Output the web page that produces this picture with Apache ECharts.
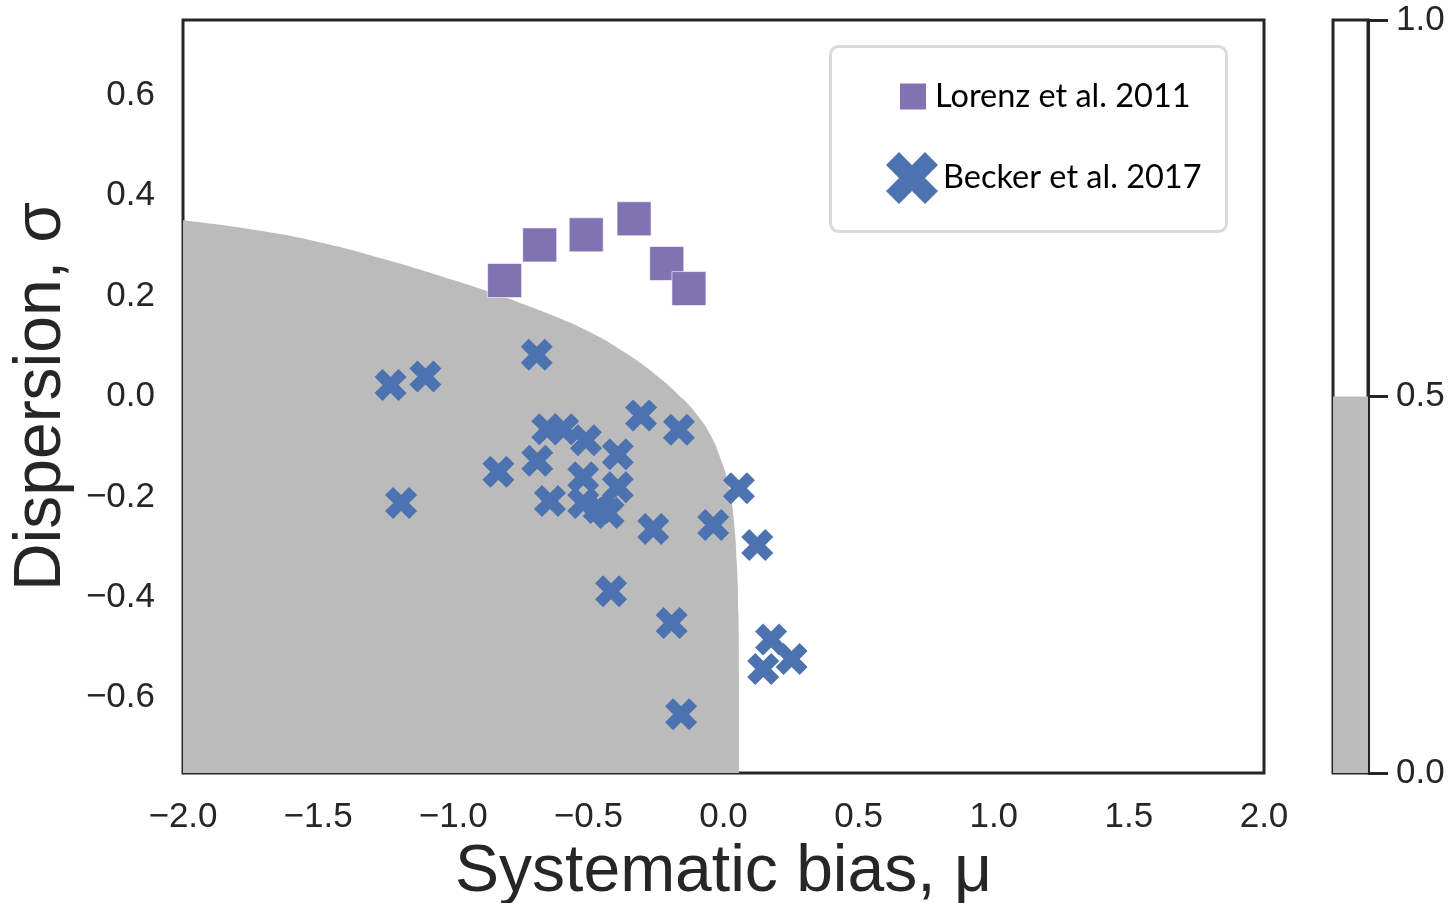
<!DOCTYPE html>
<html>
<head>
<meta charset="utf-8">
<script src="https://cdn.jsdelivr.net/npm/echarts@6/dist/echarts.min.js"></script>
<style>
  html, body { margin: 0; padding: 0; background: #ffffff; }
  #chart { width: 1452px; height: 903px; }
</style>
</head>
<body>
<div id="chart"></div>
<script>
// Lorenz et al. 2011: [systematic bias mu, dispersion sigma]
const lorenz = [
  [-0.810, 0.231], [-0.680, 0.302], [-0.508, 0.322],
  [-0.331, 0.354], [-0.210, 0.265], [-0.128, 0.215]
];

// Becker et al. 2017: [systematic bias mu, dispersion sigma]
const becker = [
  [-1.232, 0.023], [-1.103, 0.040], [-0.691, 0.083], [-1.193, -0.212],
  [-0.833, -0.150], [-0.689, -0.128], [-0.642, -0.208], [-0.652, -0.065],
  [-0.593, -0.065], [-0.509, -0.087], [-0.305, -0.038], [-0.165, -0.066],
  [-0.391, -0.115], [-0.391, -0.181], [-0.519, -0.161], [-0.519, -0.212],
  [-0.462, -0.222], [-0.425, -0.232], [-0.260, -0.264], [-0.038, -0.256],
  [0.057, -0.183], [0.125, -0.296], [-0.416, -0.388], [-0.192, -0.451],
  [-0.157, -0.633], [0.176, -0.484], [0.252, -0.523], [0.147, -0.543]
];

// Edge of the shaded (value < 0.5) region; filled down to the bottom of the axis
const grayBoundary = [
  [-2.000, 0.351], [-1.750, 0.333], [-1.500, 0.308], [-1.250, 0.273],
  [-1.000, 0.232], [-0.875, 0.210], [-0.750, 0.186], [-0.625, 0.160],
  [-0.500, 0.130], [-0.375, 0.091], [-0.250, 0.043], [-0.150, -0.005],
  [-0.100, -0.035], [-0.050, -0.075], [-0.010, -0.125], [0.020, -0.180],
  [0.038, -0.245], [0.049, -0.330], [0.055, -0.430], [0.057, -0.550],
  [0.057, -0.750]
];

// Tick positions
const yTickValues = [-0.6, -0.4, -0.2, 0.0, 0.2, 0.4, 0.6];
const colorbarTicks = [0.0, 0.5, 1.0];
const colorbarFill = [0.5];

const seriesNames = ['Lorenz et al. 2011', 'Becker et al. 2017'];

const BLUE = '#4C72B0';
const PURPLE = '#8172B2';
const GRAY = '#bbbbbb';
const INK = '#262626';
const SPINE = '#262626';

// Thick "X" marker (a plus sign turned by 45 degrees)
const XMARK = 'path://M50,73.57L73.57,97.14L97.14,73.57L73.57,50L97.14,26.43L73.57,2.86L50,26.43L26.43,2.86L2.86,26.43L26.43,50L2.86,73.57L26.43,97.14Z';

const fmt = v => (v < 0 ? '\u2212' : '') + Math.abs(v).toFixed(1);

const SANS = '"Liberation Sans", Arial, sans-serif';
const tickFont = { fontFamily: SANS, fontSize: 35, color: INK };
const titleFont = { fontFamily: SANS, fontSize: 66, color: INK };
const legendFont = { fontFamily: 'Lato, "Open Sans", sans-serif', fontSize: 32.5, color: '#000000' };

const chart = echarts.init(document.getElementById('chart'), null, { renderer: 'canvas' });

chart.setOption({
  animation: false,
  backgroundColor: '#ffffff',
  grid: [
    { left: 183, top: 20, width: 1081, height: 753, show: true, outerBoundsMode: 'none',
      borderColor: SPINE, borderWidth: 3, backgroundColor: '#ffffff', containLabel: false },
    { left: 1333, top: 20, width: 35, height: 753, show: true, outerBoundsMode: 'none',
      borderColor: SPINE, borderWidth: 3, backgroundColor: '#ffffff', containLabel: false }
  ],
  xAxis: [
    { type: 'value', gridIndex: 0, min: -2, max: 2, interval: 0.5,
      axisLine: { show: false }, axisTick: { show: false }, splitLine: { show: false },
      axisLabel: { ...tickFont, margin: 27, formatter: fmt },
      name: 'Systematic bias, \u03bc', nameLocation: 'middle', nameGap: 62,
      nameTextStyle: titleFont },
    { type: 'category', gridIndex: 1, data: ['c'], show: false }
  ],
  yAxis: [
    { type: 'value', gridIndex: 0, min: -0.75, max: 0.75,
      axisLine: { show: false }, axisTick: { show: false }, splitLine: { show: false },
      axisLabel: { ...tickFont, margin: 28, padding: [8, 0, 0, 0], formatter: fmt, customValues: yTickValues },
      name: 'Dispersion, \u03c3', nameLocation: 'middle', nameGap: 103, nameRotate: 90,
      nameTextStyle: titleFont },
    { type: 'value', gridIndex: 1, min: 0, max: 1, position: 'right',
      axisLine: { show: true, lineStyle: { color: SPINE, width: 3 } },
      axisTick: { show: true, length: 20, lineStyle: { color: SPINE, width: 3 }, customValues: colorbarTicks },
      splitLine: { show: false },
      axisLabel: { ...tickFont, margin: 28, padding: [6, 0, 0, 0], formatter: v => v.toFixed(1), customValues: colorbarTicks } }
  ],
  legend: [
    { data: [{ name: seriesNames[0], icon: 'rect' }], orient: 'vertical',
      left: 898, top: 80, itemWidth: 28, itemHeight: 28, padding: 0,
      textStyle: { ...legendFont, padding: [0, 0, 0, 3] }, selectedMode: false },
    { data: [{ name: seriesNames[1], icon: XMARK }], orient: 'vertical',
      left: 886, top: 152, itemWidth: 52, itemHeight: 52, padding: 0,
      textStyle: { ...legendFont, padding: [0, 0, 0, 0] }, selectedMode: false }
  ],
  graphic: [
    { type: 'rect', left: 829, top: 45, z: 3,
      shape: { width: 396, height: 185, r: 8 },
      style: { fill: '#ffffff', stroke: '#dadada', lineWidth: 3 } }
  ],
  series: [
    { type: 'line', xAxisIndex: 0, yAxisIndex: 0, data: grayBoundary,
      showSymbol: false, symbol: 'none', smooth: 0.5,
      lineStyle: { width: 0, color: GRAY }, itemStyle: { color: GRAY },
      areaStyle: { color: GRAY, opacity: 1, origin: 'start' }, silent: true, z: 1 },
    { type: 'bar', xAxisIndex: 1, yAxisIndex: 1, data: colorbarFill,
      barWidth: '100%', itemStyle: { color: GRAY }, silent: true },
    { name: seriesNames[0], type: 'scatter', xAxisIndex: 0, yAxisIndex: 0, data: lorenz,
      symbol: 'rect', symbolSize: 34,
      itemStyle: { color: PURPLE, opacity: 1, borderColor: '#ffffff', borderWidth: 0.6 }, z: 3 },
    { name: seriesNames[1], type: 'scatter', xAxisIndex: 0, yAxisIndex: 0, data: becker,
      symbol: XMARK, symbolSize: 32,
      itemStyle: { color: BLUE, opacity: 1 }, z: 4 }
  ]
});
</script>
</body>
</html>
